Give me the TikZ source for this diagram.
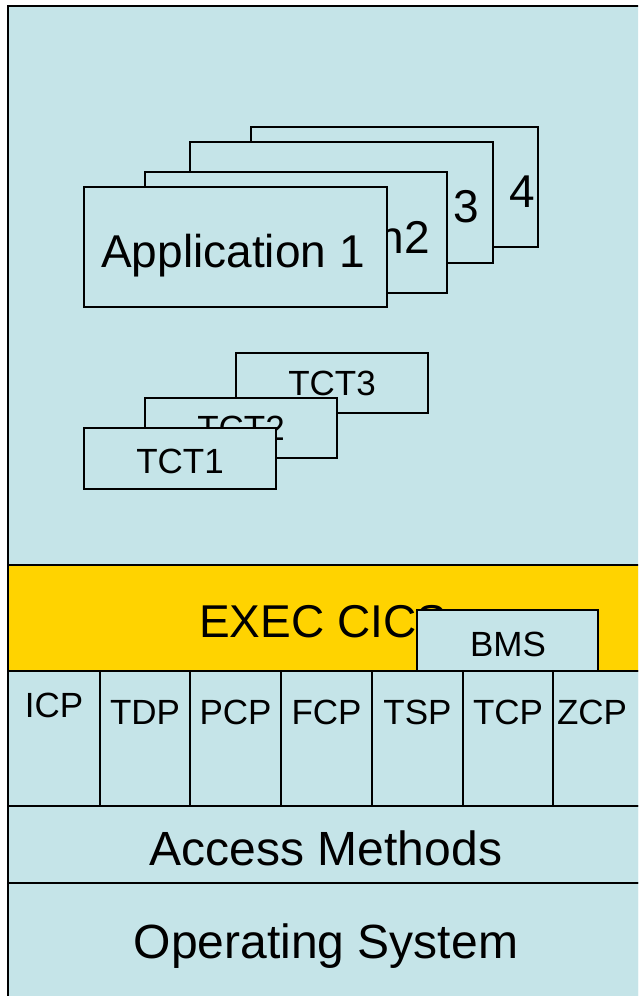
\documentclass[tikz,border=0pt]{standalone}
\usepackage{fontspec}
\setmainfont{Liberation Sans}
\definecolor{bgblue}{RGB}{197,228,232}
\definecolor{execgold}{RGB}{255,211,0}
\begin{document}
\begin{tikzpicture}[x=1pt,y=-1pt,
  box/.style={draw=black, fill=bgblue, line width=1.6pt, inner sep=0pt, outer sep=0pt, anchor=north west},
  cell/.style={draw=black, fill=bgblue, line width=1.3pt, inner sep=0pt, outer sep=0pt, anchor=north west, minimum height=135},
  txt/.style={inner sep=0pt, outer sep=0pt, text=black},
  bigtxt/.style={txt, font=\fontsize{46}{50}\selectfont},
  midtxt/.style={txt, font=\fontsize{35}{40}\selectfont},
  lbltxt/.style={txt, font=\fontsize{48}{52}\selectfont}
]
\useasboundingbox (0,0) rectangle (638,996);
\begin{scope}
\clip (0,0) rectangle (638,996);
% outer frame
\node[box, line width=2pt, minimum width=700, minimum height=1060] (frame) at (8,6) {};

% applications (back to front)
\node[box, minimum width=287, minimum height=120] (app4) at (251,127) {};
\node[bigtxt, anchor=base east] (app4t) at (535,207) {Application 4};
\node[box, minimum width=303, minimum height=121] (app3) at (190,142) {};
\node[bigtxt, anchor=base east] (app3t) at (479,222) {Application 3};
\node[box, minimum width=302, minimum height=121] (app2) at (145,172) {};
\node[bigtxt, anchor=base east] (app2t) at (430,253) {Application2};
\node[box, minimum width=303, minimum height=120] (app1) at (84,187) {};
\node[bigtxt, anchor=base] (app1t) at (233,267) {Application 1};

% TCTs
\node[box, minimum width=192, minimum height=60] (tct3) at (236,353) {};
\node[midtxt, anchor=base] (tct3t) at (332,395) {TCT3};
\node[box, minimum width=192, minimum height=60] (tct2) at (145,398) {};
\node[midtxt, anchor=base] (tct2t) at (241,440) {TCT2};
\node[box, minimum width=192, minimum height=61] (tct1) at (84,428) {};
\node[midtxt, anchor=base] (tct1t) at (180,473) {TCT1};

% EXEC CICS band
\node[box, fill=execgold, line width=2pt, minimum width=700, minimum height=106] (exec) at (8,565) {};
\node[bigtxt, anchor=base] (exect) at (323,637) {EXEC CICS};
\node[box, line width=1.4pt, minimum width=181, minimum height=61] (bms) at (417,610) {};
\node[midtxt, anchor=base] (bmst) at (508,656) {BMS};

% control programs row
\node[cell, minimum width=92] (icp) at (8,671) {};
\node[cell, minimum width=90] (tdp) at (100,671) {};
\node[cell, minimum width=91] (pcp) at (190,671) {};
\node[cell, minimum width=91] (fcp) at (281,671) {};
\node[cell, minimum width=91] (tsp) at (372,671) {};
\node[cell, minimum width=90] (tcp) at (463,671) {};
\node[cell, minimum width=150] (zcp) at (553,671) {};
\node[midtxt, anchor=base] (icpt) at (54,717) {ICP};
\node[midtxt, anchor=base] (tdpt) at (145,724) {TDP};
\node[midtxt, anchor=base] (pcpt) at (235.5,724) {PCP};
\node[midtxt, anchor=base] (fcpt) at (326.5,724) {FCP};
\node[midtxt, anchor=base] (tspt) at (417.5,724) {TSP};
\node[midtxt, anchor=base] (tcpt) at (508,724) {TCP};
\node[midtxt, anchor=base] (zcpt) at (592,724) {ZCP};

% access methods / operating system
\node[box, line width=2pt, minimum width=700, minimum height=77] (am) at (8,806) {};
\node[lbltxt, anchor=base] (amt) at (326,865) {Access Methods};
\node[box, line width=2pt, minimum width=700, minimum height=200] (os) at (8,883) {};
\node[lbltxt, anchor=base] (ost) at (326,958) {Operating System};
\end{scope}
\end{tikzpicture}
\end{document}
